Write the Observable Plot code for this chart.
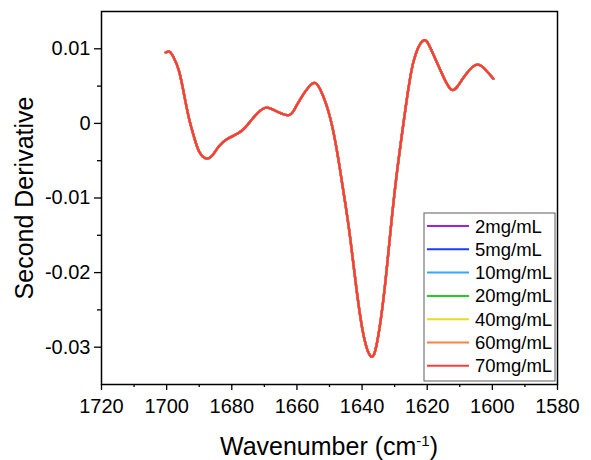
<!DOCTYPE html>
<html>
<head>
<meta charset="utf-8">
<script src="https://cdn.jsdelivr.net/npm/d3@7"></script>
<script src="https://cdn.jsdelivr.net/npm/@observablehq/plot@0.6"></script>
<style>
  html, body { margin: 0; padding: 0; background: #fff; }
  #chart { width: 591px; height: 460px; }
</style>
</head>
<body>
<div id="chart"></div>
<script>
// ---- data ----
const seriesNames = ["2mg/mL", "5mg/mL", "10mg/mL", "20mg/mL", "40mg/mL", "60mg/mL", "70mg/mL"];
const seriesColors = ["#a020e0", "#1a3cff", "#33a8ff", "#22cc22", "#e6dc1e", "#ff8040", "#ff3c3c"];

const wavenumber = [1700.3, 1699.1, 1697.8, 1696.2, 1694.7, 1693.2, 1691.6, 1690.1, 1688.0, 1686.0,
  1684.0, 1681.4, 1678.3, 1675.8, 1672.7, 1669.7, 1667.1, 1663.0, 1661.0, 1658.9,
  1655.4, 1652.8, 1649.7, 1647.2, 1645.2, 1643.6, 1641.6, 1639.5, 1637.4, 1635.6,
  1633.4, 1631.4, 1629.3, 1626.5, 1624.2, 1621.2, 1618.8, 1615.7, 1612.5, 1609.4,
  1605.3, 1602.3, 1599.7];

const secondDerivative = [0.0095, 0.0096, 0.0088, 0.0070, 0.0040, 0.0008, -0.0018, -0.0037, -0.0047, -0.0043,
  -0.0031, -0.0021, -0.0014, -0.0005, 0.0011, 0.0021, 0.0018, 0.0011, 0.0017, 0.0033,
  0.0053, 0.0045, 0.0006, -0.0050, -0.0106, -0.0155, -0.0226, -0.0285, -0.0312, -0.0298,
  -0.0234, -0.0150, -0.0066, 0.0025, 0.0083, 0.0111, 0.0099, 0.0069, 0.0045, 0.0058,
  0.0078, 0.0073, 0.0060];

// The seven concentration curves overlap completely in the figure.
const seriesValues = {
  "2mg/mL": secondDerivative,
  "5mg/mL": secondDerivative,
  "10mg/mL": secondDerivative,
  "20mg/mL": secondDerivative,
  "40mg/mL": secondDerivative,
  "60mg/mL": secondDerivative,
  "70mg/mL": secondDerivative
};

const xMajorTicks = [1720, 1700, 1680, 1660, 1640, 1620, 1600, 1580];
const xMinorTicks = [1710, 1690, 1670, 1650, 1630, 1610, 1590];
const yMajorTicks = [0.01, 0, -0.01, -0.02, -0.03];
const yMinorTicks = [0.005, -0.005, -0.015, -0.025];
const yTickLabels = ["0.01", "0", "-0.01", "-0.02", "-0.03"];

// ---- table ----
const rows = [];
seriesNames.forEach(name => {
  seriesValues[name].forEach((v, i) => rows.push({series: name, x: wavenumber[i], y: v}));
});

const FONT = "Arial, 'Liberation Sans', sans-serif";

const plot = Plot.plot({
  width: 591,
  height: 460,
  marginLeft: 101,
  marginRight: 34,
  marginTop: 11,
  marginBottom: 76,
  style: {fontFamily: FONT, fontSize: "20px", color: "#000", background: "#fff", overflow: "visible"},
  x: {domain: [1720, 1580]},
  y: {domain: [-0.035, 0.015]},
  color: {domain: seriesNames, range: seriesColors},
  marks: [
    Plot.axisX({ticks: xMajorTicks, tickSize: 6, tickPadding: 8, tickFormat: d => String(d), label: null, strokeWidth: 1.3}),
    Plot.axisX({ticks: xMinorTicks, tickSize: 3, tickFormat: () => "", label: null, strokeWidth: 1.3}),
    Plot.axisY({ticks: yMajorTicks, tickSize: 7, tickPadding: 4,
      tickFormat: d => yTickLabels[yMajorTicks.indexOf(d)], label: null, strokeWidth: 1.3}),
    Plot.axisY({ticks: yMinorTicks, tickSize: 4, tickFormat: () => "", label: null, strokeWidth: 1.3}),
    Plot.line(rows, {x: "x", y: "y", z: "series", stroke: "series", strokeWidth: 2.3, curve: "natural"}),
    Plot.frame({stroke: "#000", strokeWidth: 1.5})
  ]
});

document.getElementById("chart").appendChild(plot);

// ---- axis titles and legend ----
const svg = d3.select(plot);

svg.append("text")
  .attr("x", 329).attr("y", 455)
  .attr("text-anchor", "middle")
  .style("font-family", FONT).style("font-size", "25px").attr("fill", "#000")
  .call(t => {
    t.append("tspan").text("Wavenumber (cm");
    t.append("tspan").attr("dy", -9).style("font-size", "15px").text("-1");
    t.append("tspan").attr("dy", 9).text(")");
  });

svg.append("text")
  .attr("transform", "translate(33,198) rotate(-90)")
  .attr("text-anchor", "middle")
  .style("font-family", FONT).style("font-size", "25px").attr("fill", "#000")
  .text("Second Derivative");

const lg = svg.append("g");
lg.append("rect")
  .attr("x", 424).attr("y", 213).attr("width", 131).attr("height", 168)
  .attr("fill", "#fff").attr("stroke", "#777").attr("stroke-width", 1.2);
seriesNames.forEach((name, i) => {
  const cy = 226 + i * 23.3;
  lg.append("line")
    .attr("x1", 427).attr("x2", 469).attr("y1", cy).attr("y2", cy)
    .attr("stroke", seriesColors[i]).attr("stroke-width", 2);
  lg.append("text")
    .attr("x", 475).attr("y", cy + 6.5)
    .attr("text-anchor", "start")
    .style("font-family", FONT).style("font-size", "18.5px").attr("fill", "#000")
    .text(name);
});
</script>
</body>
</html>
